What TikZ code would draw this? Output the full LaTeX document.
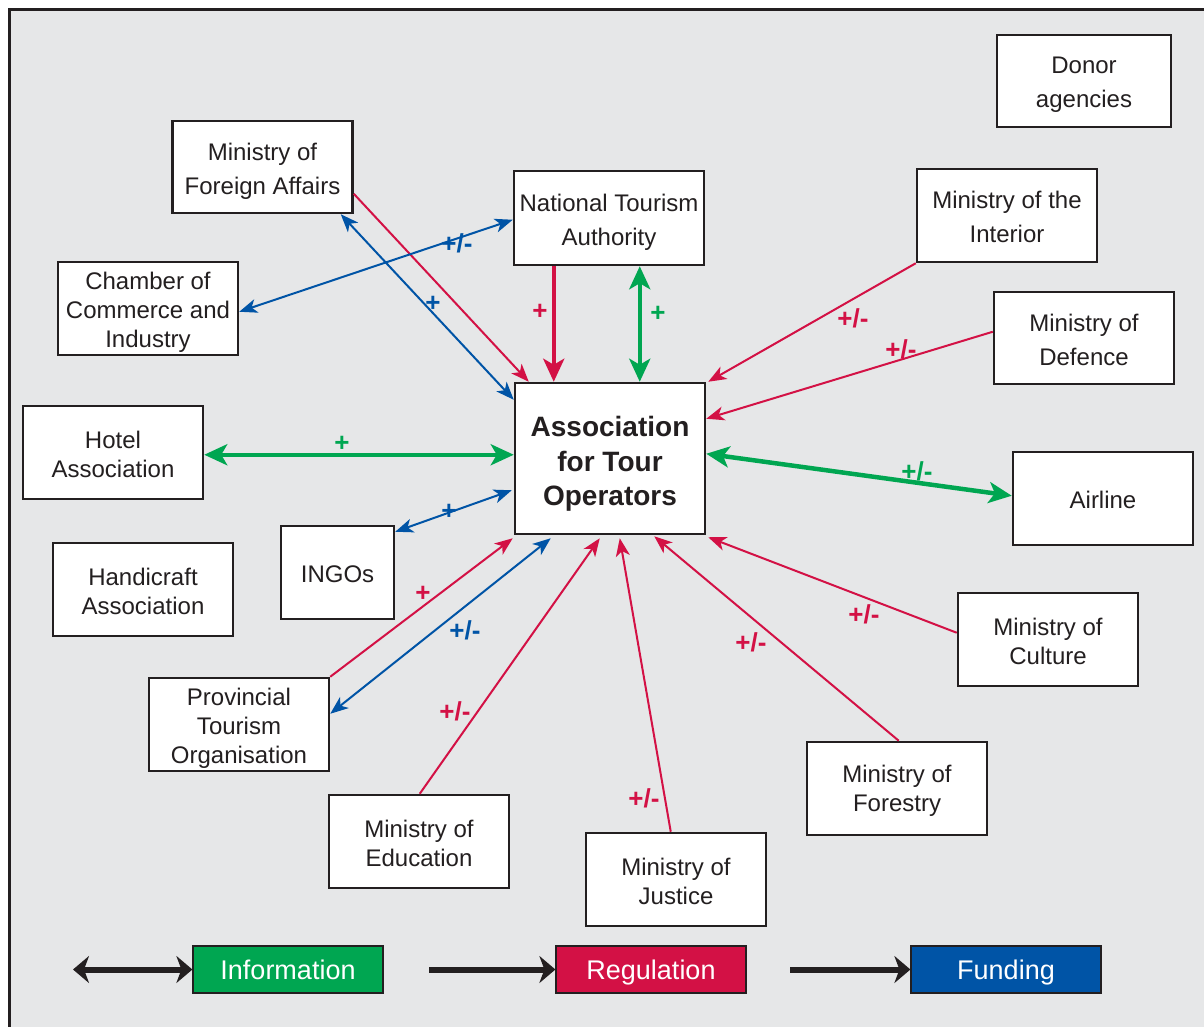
\documentclass[tikz,border=0pt]{standalone}
\usepackage{fontspec}
\setmainfont{Liberation Sans}
\usetikzlibrary{arrows.meta,calc}
\definecolor{bg}{HTML}{E6E7E8}
\definecolor{ink}{HTML}{231F20}
\definecolor{cgreen}{HTML}{00A651}
\definecolor{cred}{HTML}{D31145}
\definecolor{cblue}{HTML}{0054A6}
\begin{document}
\begin{tikzpicture}[x=1pt,y=-1pt,
  box/.style={draw=ink,line width=2.5pt,fill=white,minimum width=180pt,minimum height=93pt,inner sep=0pt},
  bt0/.style={align=center,text=ink,inner sep=0pt,font=\fontsize{24}{34}\selectfont},
  bt/.style={bt0,yshift=-4pt},
  btl/.style={bt0,font=\fontsize{24}{29}\selectfont,yshift=-2pt},
  bt3/.style={bt0,font=\fontsize{24}{29}\selectfont,yshift=-4pt},
  bt1/.style={bt0,yshift=-1.5pt},
  btm/.style={bt0,font=\fontsize{28}{34.5}\selectfont\bfseries,yshift=-5.5pt},
  legbox/.style={draw=ink,line width=1.2pt,minimum width=190pt,minimum height=47pt,inner sep=0pt,
    text=white,text height=20pt,text depth=-2pt,font=\fontsize{27}{30}\selectfont},
  tipthin/.tip={Stealth[length=18pt,width=14pt,inset=5pt]},
  tipthick/.tip={Stealth[length=23pt,width=21pt,inset=6pt]},
  thin/.style={line width=2pt,-tipthin},
  thinboth/.style={line width=2pt,tipthin-tipthin},
  thick/.style={line width=4.5pt,-tipthick},
  thickboth/.style={line width=4.5pt,tipthick-tipthick},
  legarrow/.style={line width=6pt,draw=ink,-{Stealth[length=16pt,width=27pt,inset=5pt]}},
  legboth/.style={line width=6pt,draw=ink,{Stealth[length=16pt,width=27pt,inset=5pt]}-{Stealth[length=16pt,width=27pt,inset=5pt]}},
  lab/.style={inner sep=0pt,font=\fontsize{26}{28}\selectfont\bfseries}
]
\useasboundingbox (0,0) rectangle (1204,1027);
\fill[bg] (9,9) rectangle (1204,1027);
\draw[ink,line width=2.5pt] (9.5,1027) -- (9.5,9.5) -- (1204,9.5);

% nodes
\node[box,minimum width=174pt,minimum height=92pt,label={[bt]center:{Donor\\agencies}}] (donor) at (1084,81) {};
\node[box,minimum height=92pt,label={[bt]center:{Ministry of\\Foreign Affairs}}] (mfa) at (262.5,167) {};
\node[box,minimum width=190pt,minimum height=94pt,label={[bt0,yshift=-4.5pt]center:{National Tourism\\Authority}}] (nta) at (609,218) {};
\node[box,label={[bt0,yshift=-1pt]center:{Ministry of the\\Interior}}] (interior) at (1007,215.5) {};
\node[box,label={[bt3]center:{Chamber of\\Commerce and\\Industry}}] (chamber) at (148,308.5) {};
\node[box,minimum height=92pt,label={[bt0,yshift=-2pt]center:{Ministry of\\Defence}}] (defence) at (1084,338) {};
\node[box,minimum width=190pt,minimum height=151pt,label={[btm]center:{Association\\for Tour\\Operators}}] (ato) at (610,458.5) {};
\node[box,label={[btl]center:{Hotel\\Association}}] (hotel) at (113,452.5) {};
\node[box,label={[bt1]center:Airline}] (airline) at (1103,498.5) {};
\node[box,minimum width=113pt,label={[bt1]center:INGOs}] (ingos) at (337.5,572.5) {};
\node[box,label={[btl]center:{Handicraft\\Association}}] (handicraft) at (143,589.5) {};
\node[box,label={[btl]center:{Ministry of\\Culture}}] (culture) at (1048,639.5) {};
\node[box,label={[bt3]center:{Provincial\\Tourism\\Organisation}}] (provincial) at (239,724.5) {};
\node[box,label={[btl]center:{Ministry of\\Forestry}}] (forestry) at (897,788.5) {};
\node[box,label={[btl]center:{Ministry of\\Education}}] (education) at (419,841.5) {};
\node[box,label={[btl]center:{Ministry of\\Justice}}] (justice) at (676,879.5) {};

% connectors
\draw[thin,cred] ($(mfa.north east)+(0,74)$) -- ($(ato.north west)+(15,0)$);
\draw[thinboth,cblue] ($(mfa.south east)+(-13,0)$) -- ($(ato.north west)+(0,18)$);
\draw[thinboth,cblue] ($(chamber.north east)+(0,51)$) -- ($(nta.north west)+(0,50)$);
\draw[thick,cred] ($(nta.south west)+(41,0)$) -- ($(ato.north west)+(40,0)$);
\draw[thickboth,cgreen] ($(nta.south west)+(127,0)$) -- ($(ato.north west)+(126,0)$);
\draw[thin,cred] (interior.south west) -- ($(ato.north east)+(2,0)$);
\draw[thin,cred] ($(defence.north west)+(0,41)$) -- ($(ato.north east)+(0,37)$);
\draw[thickboth,cgreen,line width=4pt] ($(hotel.north east)+(0,50)$) -- ($(ato.north west)+(0,73)$);
\draw[thickboth,cgreen] ($(airline.north west)+(0,45)$) -- ($(ato.north east)+(0,72)$);
\draw[thinboth,cblue] ($(ingos.north east)+(0,7)$) -- ($(ato.south west)+(-2,-45)$);
\draw[thin,cred] (provincial.north east) -- ($(ato.south west)+(-1,3)$);
\draw[thinboth,cblue] ($(provincial.north east)+(0,37)$) -- ($(ato.south west)+(37,3)$);
\draw[thin,cred] ($(education.north west)+(92,0)$) -- ($(ato.south west)+(86,3)$);
\draw[thin,cred] ($(justice.north west)+(86,0)$) -- ($(ato.south west)+(106,3)$);
\draw[thin,cred] ($(forestry.north west)+(93,0)$) -- ($(ato.south east)+(-52,1)$);
\draw[thin,cred] ($(culture.north west)+(0,41)$) -- ($(ato.south east)+(2,2)$);

% labels
\node[lab,cblue] (l1) at (433,304) {+};
\node[lab,cblue] (l2) at (457,243) {+/-};
\node[lab,cred] (l3) at (540,312) {+};
\node[lab,cgreen] (l4) at (658,314) {+};
\node[lab,cred] (l5) at (853,318) {+/-};
\node[lab,cred] (l6) at (901,349) {+/-};
\node[lab,cgreen] (l7) at (342,444) {+};
\node[lab,cgreen] (l8) at (917,471) {+/-};
\node[lab,cblue] (l9) at (449,512) {+};
\node[lab,cred] (l10) at (423,594) {+};
\node[lab,cblue] (l11) at (465,630) {+/-};
\node[lab,cred] (l12) at (455,711) {+/-};
\node[lab,cred] (l13) at (644,798) {+/-};
\node[lab,cred] (l14) at (751,642) {+/-};
\node[lab,cred] (l15) at (864,614) {+/-};

% legend
\node[legbox,fill=cgreen] (info) at (288,969.5) {Information};
\node[legbox,fill=cred] (reg) at (651,969.5) {Regulation};
\node[legbox,fill=cblue] (fund) at (1006,969.5) {Funding};
\coordinate (a1) at (73,969.5);
\coordinate (a2) at (429,969.5);
\coordinate (a3) at (790,969.5);
\draw[legboth] (a1) -- (info.west);
\draw[legarrow] (a2) -- (reg.west);
\draw[legarrow] (a3) -- (fund.west);
\end{tikzpicture}
\end{document}
